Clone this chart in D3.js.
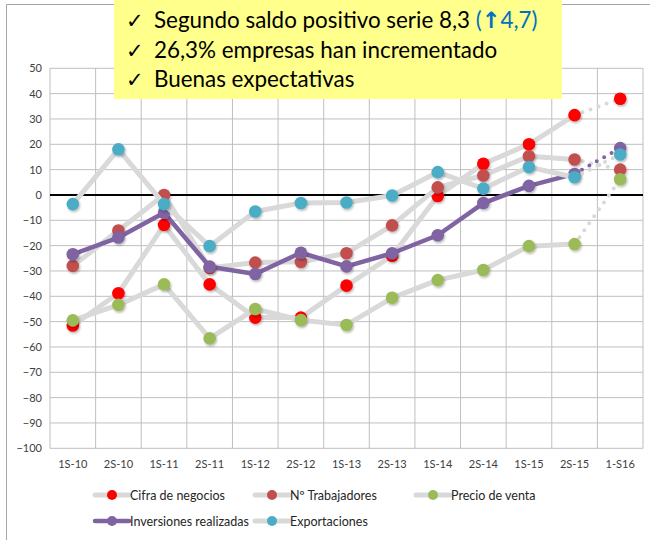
<!DOCTYPE html>
<html><head><meta charset="utf-8">
<script src="https://cdn.jsdelivr.net/npm/d3@7"></script>
<style>
html,body{margin:0;padding:0;background:#fff;}
svg{display:block;font-family:Lato,"Open Sans",sans-serif;}
</style></head>
<body>
<svg id="chart" width="650" height="540"></svg>
<script>
const categories = ["1S-10","2S-10","1S-11","2S-11","1S-12","2S-12","1S-13","2S-13","1S-14","2S-14","1S-15","2S-15","1-S16"];
const cifraNegocios   = [-51.5,-38.8,-11.8,-35.3,-48.4,-48.4,-35.8,-24,-0.4,12.3,20,31.5,38];
const trabajadores    = [-28,-14,0,-28.8,-26.7,-26.4,-23,-12,3,7.7,15.3,14,10];
const precioVenta     = [-49.5,-43.4,-35.3,-56.6,-45,-49.4,-51.3,-40.6,-33.6,-29.6,-20.2,-19.4,6.2];
const inversiones     = [-23.4,-16.8,-7,-28.3,-31.2,-22.8,-28.2,-23,-15.9,-3.2,3.6,8.3,18.5];
const exportaciones   = [-3.6,18,-3.6,-20.2,-6.5,-3.2,-3,-0.2,9,2.5,11,7,16];
const yTicks = [50,40,30,20,10,0,-10,-20,-30,-40,-50,-60,-70,-80,-90,-100];
const seriesNames = ["Cifra de negocios","Nº Trabajadores","Precio de venta","Inversiones realizadas","Exportaciones"];
const calloutLines = ["Segundo saldo positivo serie 8,3 ","26,3% empresas han incrementado","Buenas expectativas"];
const calloutExtra = ["(","↑","4,7)"];

const series = [
  {name: seriesNames[0], values: cifraNegocios, color:"#FF0000", line:"#D9D9D9", lw:5},
  {name: seriesNames[1], values: trabajadores,  color:"#C0504D", line:"#D9D9D9", lw:5},
  {name: seriesNames[2], values: precioVenta,   color:"#9BBB59", line:"#D9D9D9", lw:5},
  {name: seriesNames[3], values: inversiones,   color:"#8064A2", line:"#8064A2", lw:4.5},
  {name: seriesNames[4], values: exportaciones, color:"#4BACC6", line:"#D9D9D9", lw:5}
];

const svg = d3.select("#chart");
const defs = svg.append("defs");
const f = defs.append("filter").attr("id","sh").attr("x","-50%").attr("y","-50%").attr("width","200%").attr("height","200%");
f.append("feDropShadow").attr("dx",1).attr("dy",1.5).attr("stdDeviation",1.2).attr("flood-color","#000").attr("flood-opacity",0.3);

// outer frame
svg.append("path").attr("d","M6.5,540 V4.5 H650").attr("fill","none").attr("stroke","#A6A6A6").attr("stroke-width",1);

const L=50, R=643, T=68.3, B=448.3;
const x = d3.scaleBand().domain(categories).range([L,R]);
const y = d3.scaleLinear().domain([-100,50]).range([B,T]);
const cx = c => x(c) + x.bandwidth()/2;

const g = svg.append("g");
g.selectAll("line.h").data(yTicks).join("line")
  .attr("x1",L).attr("x2",R).attr("y1",d=>y(d)).attr("y2",d=>y(d))
  .attr("stroke","#BFBFBF").attr("stroke-width",1);
const vx = categories.map(c=>x(c)).concat([R]);
g.selectAll("line.v").data(vx).join("line")
  .attr("x1",d=>d).attr("x2",d=>d).attr("y1",T).attr("y2",B)
  .attr("stroke","#BFBFBF").attr("stroke-width",1);
g.append("line").attr("x1",L).attr("x2",R).attr("y1",y(0)).attr("y2",y(0)).attr("stroke","#000").attr("stroke-width",2);

const yAxis = d3.axisLeft(y).tickValues(yTicks).tickSize(0).tickPadding(8);
const ya = svg.append("g").attr("transform",`translate(${L},0)`).call(yAxis);
ya.select(".domain").remove();
ya.selectAll("text").attr("font-size",11).attr("fill","#404040").attr("font-family","Lato,sans-serif");

const xAxis = d3.axisBottom(x).tickSize(0).tickPadding(12);
const xa = svg.append("g").attr("transform",`translate(0,${B})`).call(xAxis);
xa.select(".domain").remove();
xa.selectAll("text").attr("font-size",11).attr("fill","#404040").attr("font-family","Lato,sans-serif");

const lineGen = d3.line().x((d,i)=>cx(categories[i])).y(d=>y(d));
const n = categories.length;
series.forEach(s=>{
  const sg = svg.append("g");
  const solid = s.values.slice(0,n-1);
  sg.append("path").attr("d",lineGen(solid)).attr("fill","none").attr("stroke",s.line)
    .attr("stroke-width",s.lw).attr("stroke-linejoin","round").attr("stroke-linecap","round");
  sg.append("line")
    .attr("x1",cx(categories[n-2])).attr("y1",y(s.values[n-2]))
    .attr("x2",cx(categories[n-1])).attr("y2",y(s.values[n-1]))
    .attr("stroke",s.line).attr("stroke-width",4).attr("stroke-linecap","round")
    .attr("stroke-dasharray","0 8.5");
  sg.selectAll("circle").data(s.values).join("circle")
    .attr("cx",(d,i)=>cx(categories[i])).attr("cy",d=>y(d)).attr("r",6.3)
    .attr("fill",s.color).attr("filter","url(#sh)");
});

const legendPos = [[95,495],[255,495],[416,495],[95,521],[255,521]];
series.forEach((s,i)=>{
  const [lx,ly] = legendPos[i];
  const lg = svg.append("g");
  lg.append("line").attr("x1",lx).attr("x2",lx+34).attr("y1",ly).attr("y2",ly)
    .attr("stroke",s.line).attr("stroke-width",s.lw).attr("stroke-linecap","round");
  lg.append("circle").attr("cx",lx+17).attr("cy",ly).attr("r",5).attr("fill",s.color);
  lg.append("text").attr("x",lx+35).attr("y",ly+4.5).attr("font-size",12.5).attr("fill","#262626")
    .attr("font-family","Lato,sans-serif").text(s.name);
});

svg.append("rect").attr("x",114).attr("y",0).attr("width",448).attr("height",99).attr("fill","#FFFF8C");
const baselines = [28,58,87];
calloutLines.forEach((t,i)=>{
  svg.append("text").attr("x",126).attr("y",baselines[i]).attr("font-size",21).attr("fill","#000")
    .attr("font-family","DejaVu Sans").text("✓");
  const tx = svg.append("text").attr("x",154).attr("y",baselines[i]).attr("font-size",22.4).attr("fill","#000")
    .attr("font-family","Lato,sans-serif");
  tx.append("tspan").text(t);
  if(i===0){
    tx.append("tspan").attr("fill","#0070C0").text(calloutExtra[0]);
    tx.append("tspan").attr("fill","#0070C0").attr("font-weight","bold").attr("font-family","DejaVu Sans").text(calloutExtra[1]);
    tx.append("tspan").attr("fill","#0070C0").text(calloutExtra[2]);
  }
});
</script>
</body></html>
